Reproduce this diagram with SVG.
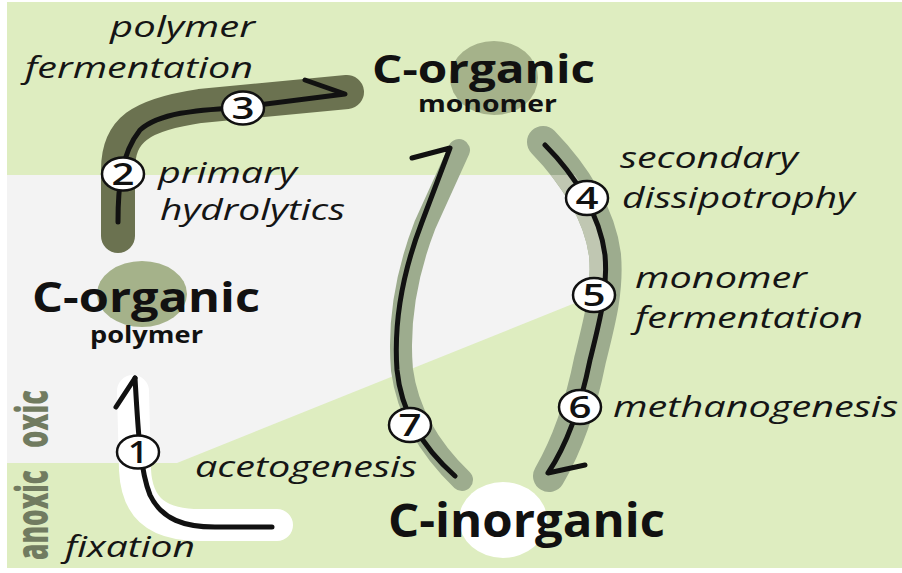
<svg xmlns="http://www.w3.org/2000/svg" width="902" height="573" viewBox="0 0 902 573">
<defs>
<style>
.lab{font-family:"Open Sans","Noto Sans","DejaVu Sans",sans-serif;font-style:italic;font-size:30px;fill:#151515}
.node{font-family:"Open Sans","Noto Sans","DejaVu Sans",sans-serif;font-weight:bold;fill:#111}
.zone{font-family:"Open Sans","Liberation Sans",sans-serif;font-weight:800;font-size:44px;fill:#717B60}
.num{font-family:"Open Sans","Noto Sans",sans-serif;font-weight:600;font-size:31px;fill:#111;text-anchor:middle}
.nc{fill:#fff;stroke:#111;stroke-width:2.5}
.line{fill:none;stroke:#111;stroke-width:5;stroke-linecap:round;stroke-linejoin:round}
.halo{fill:none;stroke-linecap:round;stroke-linejoin:round}
</style>
<clipPath id="grayclip">
<path d="M7,175 L575,175 C595,205 606,240 605,258 C605,275 600,290 595,295 L177,463 L7,463 Z"/>
</clipPath>
</defs>
<g id="background">
<rect x="0" y="0" width="902" height="573" fill="#fff"/>
<rect x="7" y="2" width="895" height="566" fill="#DEEDC0"/>
<path d="M7,175 L575,175 C595,205 606,240 605,258 C605,275 600,290 595,295 L177,463 L7,463 Z" fill="#F3F3F3"/>
<text class="zone" transform="translate(48,448) rotate(-90)" textLength="58" lengthAdjust="spacingAndGlyphs">oxic</text>
<text class="zone" transform="translate(48,560) rotate(-90)" textLength="90" lengthAdjust="spacingAndGlyphs">anoxic</text>
</g>
<g id="node-monomer">
<ellipse cx="494" cy="78" rx="44" ry="37" fill="#A5B28A"/>
<text class="node" x="372" y="83" font-size="39" textLength="223" lengthAdjust="spacingAndGlyphs">C-organic</text>
<text class="node" x="418" y="112" font-size="23" textLength="139" lengthAdjust="spacingAndGlyphs">monomer</text>
</g>
<g id="node-polymer">
<ellipse cx="142" cy="294" rx="45" ry="33" fill="#A5B28A"/>
<text class="node" x="32" y="312" font-size="41" textLength="228" lengthAdjust="spacingAndGlyphs">C-organic</text>
<text class="node" x="90" y="343" font-size="23" textLength="113" lengthAdjust="spacingAndGlyphs">polymer</text>
</g>
<g id="node-inorganic">
<ellipse cx="503" cy="520" rx="44" ry="38" fill="#fff"/>
<text class="node" x="388" y="537" font-size="46" textLength="277" lengthAdjust="spacingAndGlyphs">C-inorganic</text>
</g>
<g id="connectors">
<path class="halo" d="M133,391 L135,470 C137,510 160,525 200,525 L277,525" stroke="#fff" stroke-width="32"/>
<path class="halo" d="M118,236 L118,170 C118,130 140,115 200,106 L347,92" stroke="#6B7250" stroke-width="34"/>
<path class="halo" d="M459,150 L425,225 Q396,300 402,370 Q410,430 462,480" stroke="#9DAC8E" stroke-width="22"/>
<path class="halo" d="M543,142 C575,175 600,215 605,255 C608,290 600,320 590,360 C583,395 570,440 549,476" stroke="#9DAC8E" stroke-width="32"/>
<path class="halo" clip-path="url(#grayclip)" d="M543,142 C575,175 600,215 605,255 C608,290 600,320 590,360 C583,395 570,440 549,476" stroke="#C0C7B2" stroke-width="32"/>

<path class="line" d="M135,378 C138,430 140,470 150,495 C162,520 185,527 215,527 L272,527"/>
<path class="line" d="M116,407 L135,378"/>
<path class="line" d="M118,222 C118,190 120,155 140,130 C160,112 200,110 243,107 L345,94 L305,80"/>
<path class="line" d="M455,476 Q403,430 397,370 Q392,300 422,222 L450,148 L412,158"/>
<path class="line" d="M545,145 C575,175 600,215 605,255 C608,290 600,320 590,360 C583,395 570,440 548,473 L585,465"/>

<g id="step1"><ellipse class="nc" cx="138" cy="452" rx="21" ry="16.5"/><text class="num" x="138" y="463" textLength="20" lengthAdjust="spacingAndGlyphs">1</text></g>
<g id="step2"><ellipse class="nc" cx="123" cy="174" rx="21" ry="16.5"/><text class="num" x="123" y="185" textLength="23" lengthAdjust="spacingAndGlyphs">2</text></g>
<g id="step3"><ellipse class="nc" cx="243" cy="108" rx="21" ry="16.5"/><text class="num" x="243" y="119" textLength="23" lengthAdjust="spacingAndGlyphs">3</text></g>
<g id="step4"><ellipse class="nc" cx="587" cy="198" rx="21" ry="17"/><text class="num" x="587" y="209" textLength="23" lengthAdjust="spacingAndGlyphs">4</text></g>
<g id="step5"><ellipse class="nc" cx="594" cy="295" rx="21" ry="17"/><text class="num" x="594" y="306" textLength="23" lengthAdjust="spacingAndGlyphs">5</text></g>
<g id="step6"><ellipse class="nc" cx="580" cy="407" rx="21" ry="17"/><text class="num" x="580" y="418" textLength="23" lengthAdjust="spacingAndGlyphs">6</text></g>
<g id="step7"><ellipse class="nc" cx="410" cy="425" rx="21" ry="17"/><text class="num" x="410" y="436" textLength="23" lengthAdjust="spacingAndGlyphs">7</text></g>
</g>
<g id="labels">
<text class="lab" x="110" y="37" textLength="145" lengthAdjust="spacingAndGlyphs">polymer</text>
<text class="lab" x="25" y="78" textLength="228" lengthAdjust="spacingAndGlyphs">fermentation</text>
<text class="lab" x="158" y="183" textLength="139" lengthAdjust="spacingAndGlyphs">primary</text>
<text class="lab" x="160" y="220" textLength="185" lengthAdjust="spacingAndGlyphs">hydrolytics</text>
<text class="lab" x="620" y="168" textLength="178" lengthAdjust="spacingAndGlyphs">secondary</text>
<text class="lab" x="622" y="208" textLength="233" lengthAdjust="spacingAndGlyphs">dissipotrophy</text>
<text class="lab" x="635" y="288" textLength="172" lengthAdjust="spacingAndGlyphs">monomer</text>
<text class="lab" x="635" y="328" textLength="228" lengthAdjust="spacingAndGlyphs">fermentation</text>
<text class="lab" x="613" y="417" textLength="285" lengthAdjust="spacingAndGlyphs">methanogenesis</text>
<text class="lab" x="195" y="477" textLength="222" lengthAdjust="spacingAndGlyphs">acetogenesis</text>
<text class="lab" x="65" y="557" textLength="130" lengthAdjust="spacingAndGlyphs">fixation</text>
</g>
</svg>
